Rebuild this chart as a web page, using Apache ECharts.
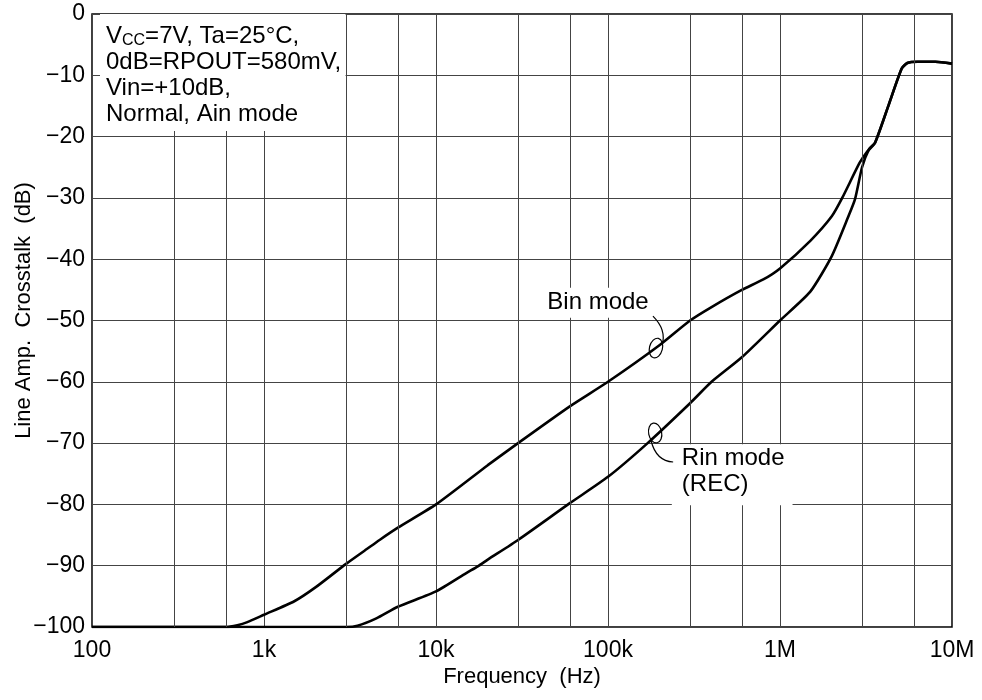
<!DOCTYPE html>
<html><head><meta charset="utf-8">
<script src="https://cdn.jsdelivr.net/npm/echarts@6/dist/echarts.min.js"></script>
<style>html,body{margin:0;padding:0;background:#fff}#c{width:982px;height:700px}</style>
</head><body><div id="c"></div>
<script>
// ---- data ----
const xTickVals = [100, 1e3, 1e4, 1e5, 1e6, 1e7];
const xTickLabels = ['100', '1k', '10k', '100k', '1M', '10M'];
const minorFreqs = [300, 600, 3000, 6000, 30000, 60000, 300000, 600000, 3e6, 6e6];
const yTickVals = [-100, -90, -80, -70, -60, -50, -40, -30, -20, -10, 0];

const binFreq = [100, 300, 600, 700, 800, 1000, 1500, 2000, 3000, 4000, 4700, 6000, 10000, 20000, 30000, 60000, 100000, 200000, 300000, 400000, 600000, 800000, 1000000, 1500000, 2000000, 2300000, 2900000, 3200000, 3570000, 4300000, 5100000, 5500000, 6300000, 8000000, 10000000];
const binVal  = [-100, -100, -100, -99.7, -99.2, -98, -95.8, -93.5, -89.7, -87.2, -85.8, -83.8, -80, -73.6, -70, -64, -60, -54, -50, -47.8, -45, -43.3, -41.5, -37, -33, -30, -24.3, -22.5, -21, -14.7, -8.9, -8.0, -7.8, -7.8, -8.1];

const rinFreq = [100, 1000, 3000, 3500, 4500, 6000, 10000, 15000, 17500, 20000, 30000, 60000, 100000, 170000, 300000, 400000, 600000, 1000000, 1500000, 2000000, 2500000, 2730000, 3000000, 3300000, 3570000, 4300000, 5100000, 5500000, 6300000, 8000000, 10000000];
const rinVal  = [-100, -100, -100, -99.8, -98.6, -96.7, -94.2, -91.2, -90.1, -89, -85.8, -79.8, -75.5, -70, -63.5, -60, -56, -50, -45.3, -39.5, -33, -30.2, -25, -22, -21, -14.7, -8.9, -8.0, -7.8, -7.8, -8.1];

const noteLines = ['=7V, Ta=25°C,', '0dB=RPOUT=580mV,', 'Vin=+10dB,', 'Normal, Ain mode'];
const binLabel = 'Bin mode';
const rinLabel = 'Rin mode\n(REC)';

// ---- chart ----
const FONT = '"Liberation Sans", Arial, Helvetica, sans-serif';
const chart = echarts.init(document.getElementById('c'), null, {renderer: 'canvas'});
const gridCol = '#444';

chart.setOption({
  animation: false,
  backgroundColor: '#fff',
  grid: {left: 92, right: 30, top: 14, bottom: 73, show: true, borderColor: '#000', borderWidth: 1.5, backgroundColor: 'transparent', containLabel: false, outerBoundsMode: 'none'},
  xAxis: {
    type: 'log', logBase: 10, min: 100, max: 1e7,
    name: 'Frequency  (Hz)', nameLocation: 'middle', nameGap: 39, nameMoveOverlap: false,
    nameTextStyle: {fontFamily: FONT, fontSize: 22, color: '#000'},
    axisLine: {show: false}, axisTick: {show: false},
    axisLabel: {margin: 12, fontFamily: FONT, fontSize: 23, color: '#000',
      formatter: v => { const i = xTickVals.findIndex(t => Math.abs(Math.log10(t) - Math.log10(v)) < 1e-6); return i >= 0 ? xTickLabels[i] : ''; }},
    splitLine: {show: true, lineStyle: {color: gridCol, width: 1}}
  },
  yAxis: {
    type: 'value', min: -100, max: 0, interval: 10,
    name: 'Line Amp.  Crosstalk  (dB)', nameLocation: 'middle', nameGap: 57, nameMoveOverlap: false,
    nameTextStyle: {fontFamily: FONT, fontSize: 22, color: '#000', padding: [0, 0, 0, 20]},
    axisLine: {show: false}, axisTick: {show: false},
    axisLabel: {margin: 7, fontFamily: FONT, fontSize: 23, color: '#000',
      formatter: v => v === 0 ? '0' : '\u2212' + Math.abs(v)},
    splitLine: {show: true, lineStyle: {color: gridCol, width: 1}}
  },
  series: [
    {type: 'line', data: [], z: 1, silent: true,
      markLine: {silent: true, symbol: ['none', 'none'], animation: false, label: {show: false},
        lineStyle: {type: 'solid', color: gridCol, width: 1},
        emphasis: {disabled: true},
        data: minorFreqs.map(f => ({xAxis: f}))}},
    {name: 'Bin mode', type: 'line', data: binFreq.map((f, i) => [f, binVal[i]]), showSymbol: false, smooth: 0.2,
      lineStyle: {color: '#000', width: 2.6}, z: 3, silent: true},
    {name: 'Rin mode', type: 'line', data: rinFreq.map((f, i) => [f, rinVal[i]]), showSymbol: false, smooth: 0.2,
      lineStyle: {color: '#000', width: 2.6}, z: 3, silent: true}
  ]
});

function P(f, v) { return chart.convertToPixel({gridIndex: 0}, [f, v]); }
const g = [];
// condition box
const tl = P(100, 0), br = P(3000, -19.1);
g.push({type: 'rect', z: 100, shape: {x: tl[0] + 8, y: tl[1], width: br[0] - tl[0] - 8.5, height: br[1] - tl[1]}, style: {fill: '#fff'}});
const rich = {
  a: {fontFamily: FONT, fontSize: 24, lineHeight: 26, fill: '#000'},
  s: {fontFamily: FONT, fontSize: 16, lineHeight: 18, verticalAlign: 'bottom', fill: '#000'}
};
g.push({type: 'text', z: 101, x: tl[0] + 14, y: tl[1] + 9,
  style: {text: '{a|V}{s|CC}{a|' + noteLines[0] + '}\n{a|' + noteLines[1] + '}\n{a|' + noteLines[2] + '}\n{a|' + noteLines[3] + '}', rich: rich, align: 'left', verticalAlign: 'top'}});

// Bin mode label
const bl = P(87500, -47.1);
g.push({type: 'text', z: 101, x: bl[0], y: bl[1],
  style: {text: binLabel, fontFamily: FONT, fontSize: 24, fill: '#000', align: 'center', verticalAlign: 'middle', backgroundColor: '#fff', padding: [3, 3, 3, 3]}});
const be = P(190000, -54.5);
g.push({type: 'ellipse', z: 101, x: be[0], y: be[1], rotation: -0.25, shape: {cx: 0, cy: 0, rx: 6.5, ry: 10}, style: {fill: 'none', stroke: '#000', lineWidth: 1.2}});
g.push({type: 'bezierCurve', z: 101, shape: {x1: be[0] - 3, y1: be[1] - 32, cpx1: be[0] + 11, cpy1: be[1] - 18, x2: be[0] + 6, y2: be[1] - 3}, style: {fill: 'none', stroke: '#000', lineWidth: 1.2}});

// Rin mode label
const rl = P(235000, -70.2);
g.push({type: 'text', z: 101, x: rl[0], y: rl[1],
  style: {text: rinLabel, fontFamily: FONT, fontSize: 24, lineHeight: 26, fill: '#000', align: 'left', verticalAlign: 'top', backgroundColor: '#fff', padding: [1, 8, 8, 10]}});
const re = P(188000, -68.35);
g.push({type: 'ellipse', z: 101, x: re[0], y: re[1], rotation: 0.2, shape: {cx: 0, cy: 0, rx: 6.5, ry: 10}, style: {fill: 'none', stroke: '#000', lineWidth: 1.2}});
g.push({type: 'bezierCurve', z: 101, shape: {x1: re[0] - 4, y1: re[1] + 8, cpx1: re[0] + 1, cpy1: re[1] + 28, x2: re[0] + 18, y2: re[1] + 29}, style: {fill: 'none', stroke: '#000', lineWidth: 1.2}});

chart.setOption({graphic: {elements: g}});
</script></body></html>
